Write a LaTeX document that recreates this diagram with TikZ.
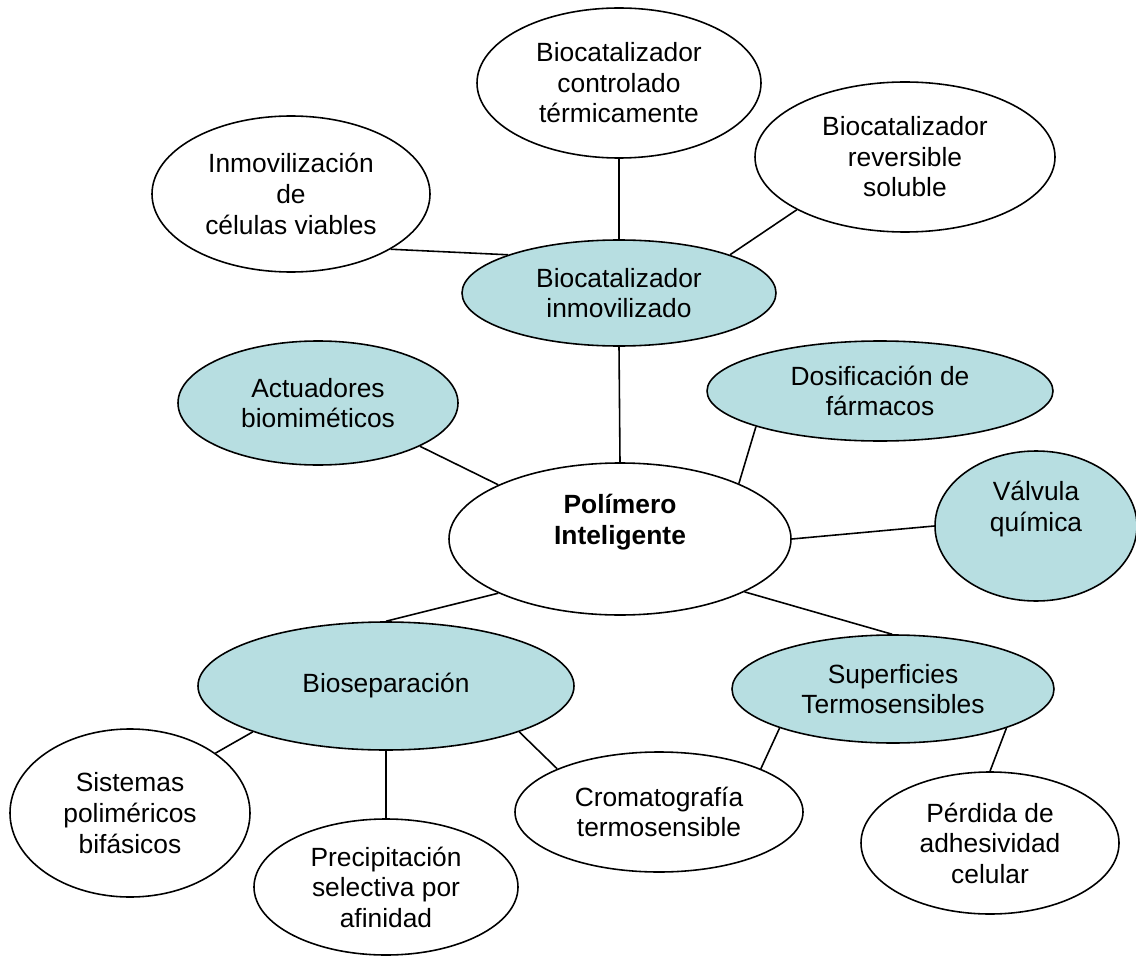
\documentclass[tikz,border=0pt]{standalone}
\usepackage{fontspec}
\setmainfont{Liberation Sans}
\usepackage{tikz}
\usetikzlibrary{shapes.geometric}
\definecolor{celeste}{RGB}{183,222,225}

\begin{document}
\begin{tikzpicture}[
    elip/.style={ellipse, draw, line width=0.9pt, inner sep=0pt, align=center,
      font=\fontsize{15}{17.4}\selectfont},
    elipfill/.style={elip, fill=celeste},
    link/.style={line width=0.9pt}]
      \useasboundingbox (0,0) rectangle (22.72,-19.26);

      % arriba
      \node[elip, minimum width=5.68cm, minimum height=3cm] (ctrl) at (12.38,-1.66) {Biocatalizador\\controlado\\térmicamente};
      \node[elip, minimum width=5.56cm, minimum height=3.12cm] (inm) at (5.82,-3.88) {Inmovilización\\de\\células viables};
      \node[elip, minimum width=6cm, minimum height=3cm] (rev) at (18.10,-3.14) {Biocatalizador\\reversible\\soluble};
      \node[elipfill, minimum width=6.28cm, minimum height=2.12cm] (bci) at (12.38,-5.86) {Biocatalizador\\inmovilizado};

      % centro
      \node[elipfill, minimum width=5.6cm, minimum height=2.48cm] (act) at (6.36,-8.06) {Actuadores\\biomiméticos};
      \node[elipfill, minimum width=6.92cm, minimum height=2cm] (dos) at (17.60,-7.82) {Dosificación de\\fármacos};
      \node[elip, minimum width=6.84cm, minimum height=3.04cm] (pol) at (12.40,-10.78) {\textbf{Polímero}\\\textbf{Inteligente}\\\strut};
      \node[elipfill, minimum width=4.04cm, minimum height=3cm] (val) at (20.72,-10.52) {Válvula\\química\\\strut};

      % abajo
      \node[elipfill, minimum width=7.52cm, minimum height=2.56cm] (bio) at (7.72,-13.72) {Bioseparación};
      \node[elipfill, minimum width=6.44cm, minimum height=2.16cm] (sup) at (17.86,-13.78) {Superficies\\Termosensibles};
      \node[elip, minimum width=4.8cm, minimum height=3.36cm] (sis) at (2.60,-16.26) {Sistemas\\poliméricos\\bifásicos};
      \node[elip, minimum width=5.28cm, minimum height=2.72cm] (pre) at (7.72,-17.74) {Precipitación\\selectiva por\\afinidad};
      \node[elip, minimum width=5.76cm, minimum height=2.4cm] (cro) at (13.18,-16.24) {Cromatografía\\termosensible};
      \node[elip, minimum width=5.16cm, minimum height=2.84cm] (per) at (19.80,-16.86) {Pérdida de\\adhesividad\\celular};

      \draw[link] (inm.-29) -- (bci.161);
      \draw[link] (ctrl.south) -- (bci.north);
      \draw[link] (rev.206) -- (bci.19);
      \draw[link] (bci.south) -- (pol.north);
      \draw[link] (act.-23) -- (pol.156);
      \draw[link] (dos.196) -- (pol.25);
      \draw[link] (pol.0) -- (val.180);
      \draw[link] (pol.-23) -- (sup.91);
      \draw[link] (pol.204) -- (bio.90);
      \draw[link] (bio.199) -- (sis.35);
      \draw[link] (bio.south) -- (pre.north);
      \draw[link] (bio.-19) -- (cro.157);
      \draw[link] (sup.199) -- (cro.23);
      \draw[link] (sup.-19) -- (per.90);

\end{tikzpicture}
\end{document}
